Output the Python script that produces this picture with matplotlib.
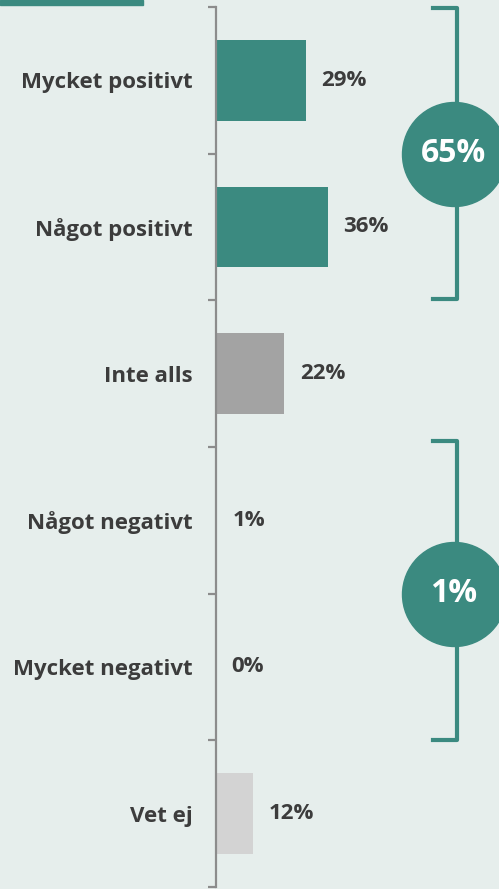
import matplotlib
matplotlib.use("Agg")
import matplotlib.pyplot as plt
import matplotlib.transforms as mtransforms
import numpy as np

categories = ["Mycket positivt", "Något positivt", "Inte alls", "Något negativt", "Mycket negativt", "Vet ej"]
values = [29, 36, 22, 0.3, 0, 12]
value_labels = ["29%", "36%", "22%", "1%", "0%", "12%"]
bar_colors = ["#3b8a80", "#3b8a80", "#a3a3a3", "#a3a3a3", "#a3a3a3", "#d3d3d3"]
groups = [(0, 1, "65%"), (3, 4, "1%")]

BG = "#e6eeec"
TEAL = "#3b8a80"
TXT = "#3c3c3c"
FONT = "Open Sans"

W, H = 499, 889
fig = plt.figure(figsize=(W / 100, H / 100), dpi=100, facecolor=BG)
ax = fig.add_axes([216 / W, 2 / H, (W - 216) / W, (887 - 7) / H])
ax.set_facecolor(BG)

n = len(categories)
y = np.arange(n)
ax.barh(y, values, height=0.55, color=bar_colors, left=0, zorder=2)
ax.set_ylim(n - 0.5, -0.5)
ax.set_xlim(0, (W - 216) / 3.11)

for s in ["top", "right", "bottom"]:
    ax.spines[s].set_visible(False)
ax.spines["left"].set_color("#8c8c8c")
ax.spines["left"].set_linewidth(1.6)
ax.spines["left"].set_zorder(3)
ax.set_xticks([])
ax.set_yticks(y)
ax.set_yticklabels(categories, fontsize=16, fontweight="bold", color=TXT, family=FONT)
ax.tick_params(axis="y", which="major", length=0, pad=17)
ax.set_yticks(np.arange(-0.5, n, 1.0), minor=True)
ax.tick_params(axis="y", which="minor", length=6, width=1.6, color="#8c8c8c", direction="out")

for yi, v, lab in zip(y, values, value_labels):
    ax.annotate(lab, (v, yi), xytext=(11, 0), textcoords="offset points",
                va="center", ha="left", fontsize=16, fontweight="bold", color=TXT, family=FONT)

trans = mtransforms.blended_transform_factory(ax.transAxes, ax.transData)
xl = (457 - 216) / (W - 216)
xh = (433 - 216) / (W - 216)
xc = (454 - 216) / (W - 216)
for (a, b, lab), (ta, tb) in zip(groups, [(0.49, 0.49), (0.54, 0.5)]):
    y0, y1 = a - ta, b + tb
    ax.plot([xh, xl, xl, xh], [y0, y0, y1, y1], transform=trans, color=TEAL, lw=3,
            solid_joinstyle="round", clip_on=False)
    yc = (a + b) / 2
    ax.scatter([xc], [yc], s=(104 * 0.72) ** 2, color=TEAL, transform=trans, clip_on=False, zorder=5)
    ax.text(xc, yc, lab, transform=trans, ha="center", va="center", fontsize=23,
            fontweight="bold", color="white", family=FONT, zorder=6)

fig.patches.append(plt.Rectangle((0, 1 - 5 / H), 143 / W, 5 / H, transform=fig.transFigure,
                                 color=TEAL, zorder=10))

fig.savefig("out.png", dpi=100, facecolor=BG)
